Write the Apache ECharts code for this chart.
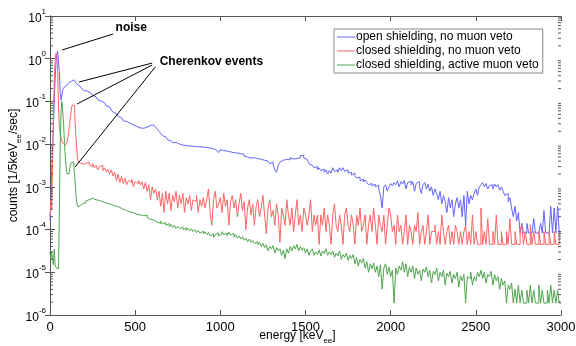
<!DOCTYPE html>
<html><head><meta charset="utf-8">
<script src="https://cdn.jsdelivr.net/npm/echarts@6/dist/echarts.min.js"></script>
<style>html,body{margin:0;padding:0;background:#fff}#c{width:576px;height:346px}</style>
</head><body><div id="c"></div>
<script>
// ---- data ----
const seriesNames = ['open shielding, no muon veto', 'closed shielding, no muon veto', 'closed shielding, active muon veto'];
const xTickValues = [0, 500, 1000, 1500, 2000, 2500, 3000];
const yTickExponents = [-6, -5, -4, -3, -2, -1, 0, 1];

// bin starts: 5 keV bins below 200 keV, 10 keV bins above
const binStarts = [];
for (let e = 0; e < 200; e += 5) binStarts.push(e);
for (let e = 200; e < 3000; e += 10) binStarts.push(e);

const openNoVeto = [
1.6e-4,4.0e-4,2.5e-3,7.9e-3,2.5e-2,0.1,0.32,0.79,1.26,1.5,1.4,0.5,0.16,0.107,0.14,0.19,0.21,0.22,0.23,0.245,
0.25,0.26,0.275,0.29,0.295,0.31,0.316,0.32,0.316,0.295,0.28,0.27,0.25,0.24,0.23,0.22,0.21,0.2,0.19,0.18,
0.178,0.174,0.166,0.158,0.148,0.138,0.129,0.117,0.11,0.102,
0.098,0.093,0.087,0.079,0.074,0.068,0.063,0.056,0.052,0.048,
0.044,0.042,0.038,0.035,0.034,0.032,0.031,0.030,0.028,0.0275,
0.026,0.025,0.024,0.025,0.0235,0.0245,0.025,0.026,0.0275,0.027,
0.028,0.026,0.025,0.0224,0.02,0.0178,0.0158,0.0148,0.0135,0.0126,
0.012,0.0112,0.0107,0.011,0.0102,0.01,0.0107,0.0095,0.01,0.0093,
0.0098,0.0091,0.0095,0.0089,0.0093,0.0087,0.0091,0.0087,0.0089,0.0085,
0.0091,0.0083,0.0087,0.0081,0.0085,0.0079,0.0076,0.0071,0.0072,0.0063,
0.0074,0.0071,0.0066,0.0069,0.0063,0.0066,0.006,0.0063,0.0059,0.0062,
0.0056,0.006,0.0055,0.0058,0.0052,0.005,0.0054,0.0047,0.005,0.0048,
0.0051,0.0046,0.0049,0.0044,0.0047,0.0042,0.0045,0.004,0.0043,0.0035,
0.0038,0.0032,0.0025,0.0022,0.0032,0.0038,0.0042,0.004,0.0044,0.0047,
0.0043,0.0048,0.0045,0.005,0.0046,0.0051,0.0048,0.0054,0.0054,0.0047,
0.0044,0.004,0.0035,0.0032,0.0033,0.0028,0.003,0.0025,0.0028,0.0024,
0.0026,0.0022,0.0025,0.002,0.0024,0.0021,0.0028,0.0023,0.0025,0.0022,
0.0028,0.0024,0.0028,0.0023,0.0025,0.0021,0.0022,0.0019,0.0021,0.0018,
0.0016,0.0017,0.0014,0.0015,0.0013,0.00145,0.00126,0.00112,0.0012,0.00105,
0.00115,0.001,0.0011,0.00089,0.00063,0.00032,0.001,0.00112,0.00079,0.001,
0.0012,0.00105,0.00126,0.00112,0.00138,0.001,0.00132,0.00117,0.0014,0.00089,
0.00126,0.00135,0.00112,0.00132,0.00079,0.0012,0.00132,0.001,0.0007,0.00112,
0.00126,0.00089,0.00115,0.00079,0.001,0.00063,0.00089,0.0007,0.0005,0.00079,
0.0004,0.00063,0.00045,0.00025,0.00056,0.00032,0.0005,0.0002,0.0004,0.00056,
0.00032,0.0005,0.0002,0.00063,0.000126,0.00079,0.0004,0.00063,0.0005,0.0007,
0.00089,0.00063,0.001,0.00112,0.00126,0.001,0.0012,0.00089,0.00107,0.00112,
0.00089,0.00117,0.001,0.00112,0.00083,0.001,0.00079,0.00063,0.0007,0.00045,
0.00056,0.00032,0.0002,0.00035,0.00016,0.00025,8.3e-5,0.00014,8.3e-5,8.3e-5,
0.00014,8.3e-5,8.3e-5,8.3e-5,0.00018,8.3e-5,8.3e-5,8.3e-5,0.00014,8.3e-5,
0.00028,8.3e-5,8.3e-5,8.3e-5,0.00035,8.3e-5,0.00032,8.3e-5,0.00035,8.3e-5
];

const closedNoVeto = [
2e-4,5e-4,3e-4,4e-3,0.05,0.3,0.9,1.35,1.2,0.5,0.08,0.025,0.018,0.014,0.012,0.0105,0.0098,0.0095,0.0093,0.0095,
0.011,0.014,0.02,0.03,0.045,0.065,0.082,0.09,0.08,0.05,0.022,0.01,0.0055,0.004,0.0038,0.0036,0.0035,0.0037,0.0034,0.0036,
3.5e-3,3.2e-3,3.8e-3,3.3e-3,3.0e-3,3.5e-3,2.8e-3,3.2e-3,2.5e-3,2.95e-3,
3.2e-3,2.4e-3,2.8e-3,2.24e-3,2.6e-3,2.0e-3,2.5e-3,1.78e-3,2.2e-3,1.4e-3,
2.0e-3,1.26e-3,1.78e-3,1.2e-3,1.58e-3,1.12e-3,1.4e-3,1.26e-3,1.5e-3,1.0e-3,
1.32e-3,1.2e-3,1.4e-3,1.12e-3,1.32e-3,8.9e-4,1.26e-3,7.9e-4,1.12e-3,5e-4,
1.0e-3,7.1e-4,8.9e-4,5e-4,7.9e-4,3.5e-4,7.1e-4,2.5e-4,7.9e-4,4e-4,
7.1e-4,2.8e-4,6.3e-4,4.5e-4,7.9e-4,3.2e-4,6.3e-4,4e-4,7.1e-4,2.5e-4,
5.6e-4,4e-4,6.3e-4,2.8e-4,5e-4,4.5e-4,6.3e-4,2.5e-4,5e-4,3.5e-4,
5.6e-4,3.2e-4,5e-4,8.9e-4,2.5e-4,1.26e-4,5e-4,7.9e-4,3.2e-4,4e-4,
5.6e-4,2.5e-4,7.1e-4,3.5e-4,5e-4,1.26e-4,4.5e-4,6.3e-4,3.2e-4,5e-4,
2e-4,4e-4,7.1e-4,2.8e-4,4.5e-4,1e-4,3.2e-4,5e-4,2.2e-4,4e-4,
1.26e-4,3.5e-4,5e-4,2e-4,3.2e-4,6.3e-4,2.2e-4,8e-5,3.2e-4,5e-4,
2e-4,2.8e-4,1.26e-4,4e-4,2.2e-4,5e-5,3.2e-4,2.2e-4,1.26e-4,5e-4,
2.2e-4,1.26e-4,3.2e-4,9e-5,2.2e-4,5e-4,1.26e-4,2.2e-4,9e-5,3.2e-4,
2.2e-4,1.26e-4,2.2e-4,5e-4,9e-5,2.2e-4,1.26e-4,2.2e-4,4.5e-5,2.2e-4,
1.26e-4,3.2e-4,9e-5,2.2e-4,1.26e-4,4.5e-5,2.2e-4,4e-4,1.26e-4,9e-5,
2.2e-4,1.26e-4,4.5e-5,2.2e-4,3.2e-4,1.26e-4,9e-5,2.2e-4,1.26e-4,4.5e-5,
2.2e-4,1.26e-4,3.2e-4,9e-5,1.26e-4,2.2e-4,4.5e-5,1.26e-4,2.2e-4,9e-5,
3.2e-4,1.26e-4,4.5e-5,2.2e-4,1.26e-4,9e-5,2.2e-4,4.5e-5,1.26e-4,3.2e-4,
2.2e-4,9e-5,1.26e-4,4.5e-5,2.2e-4,9e-5,1.26e-4,4.5e-5,9e-5,2.2e-4,
4.5e-5,1.26e-4,9e-5,4.5e-5,1.26e-4,9e-5,2.5e-4,4.5e-5,9e-5,1.26e-4,
4.5e-5,9e-5,2.2e-4,4.5e-5,9e-5,9e-5,1.26e-4,4.5e-5,9e-5,4.5e-5,
2.2e-4,9e-5,4.5e-5,9e-5,1.26e-4,4.5e-5,9e-5,4.5e-5,1.26e-4,9e-5,
4.5e-5,9e-5,4.5e-5,9e-5,1.26e-4,4.5e-5,9e-5,4.5e-5,2.2e-4,4.5e-5,
9e-5,4.5e-5,4.5e-5,3.2e-4,4.5e-5,9e-5,4.5e-5,1.8e-4,4.5e-5,4.5e-5,
9e-5,4.5e-5,2.2e-4,4.5e-5,4.5e-5,9e-5,4.5e-5,4.5e-5,9e-5,4.5e-5,
1.8e-4,4.5e-5,4.5e-5,9e-5,4.5e-5,4.5e-5,9e-5,1.26e-4,4.5e-5,9e-5,
4.5e-5,4.5e-5,1.26e-4,4.5e-5,9e-5,4.5e-5,4.5e-5,9e-5,4.5e-5,4.5e-5,
9e-5,4.5e-5,4.5e-5,9e-5,4.5e-5,4.5e-5,9e-5,4.5e-5,4.5e-5,9e-5
];

const closedActiveVeto = [
3e-5,2e-5,3e-5,2e-5,1.5e-5,3.5e-5,1.5e-5,1.3e-5,1.4e-5,1.2e-5,1.3e-5,3e-4,0.01,0.06,0.1,0.09,0.03,0.01,0.005,0.003,
0.002,0.0018,0.0021,0.0026,0.0032,0.0037,0.0039,0.0038,0.003,0.0018,0.0009,0.0005,0.00038,0.00034,0.00035,0.00037,0.00036,0.0004,0.00041,0.00043,
4.2e-4,4.7e-4,5e-4,5.2e-4,5.4e-4,5.6e-4,5e-4,5.4e-4,4.8e-4,5e-4,
4.5e-4,4.8e-4,4.2e-4,4.4e-4,4e-4,4.3e-4,3.7e-4,4e-4,3.5e-4,3.6e-4,
3.3e-4,3.55e-4,3.0e-4,3.16e-4,2.8e-4,3.0e-4,2.6e-4,2.8e-4,2.5e-4,2.6e-4,
2.3e-4,2.5e-4,2.2e-4,2.4e-4,2.1e-4,2.0e-4,2.2e-4,1.9e-4,1.74e-4,1.9e-4,
1.66e-4,1.78e-4,1.5e-4,1.66e-4,1.4e-4,1.58e-4,1.35e-4,1.45e-4,1.26e-4,1.38e-4,
1.17e-4,1.32e-4,1.12e-4,1.26e-4,1.07e-4,1.2e-4,1.05e-4,1.15e-4,1.0e-4,1.1e-4,
9.5e-5,1.07e-4,9.3e-5,1.05e-4,8.9e-5,1.0e-4,8.5e-5,9.5e-5,8.3e-5,9.1e-5,
7.9e-5,8.9e-5,7.6e-5,8.5e-5,7.1e-5,7.9e-5,6.6e-5,7.6e-5,8.3e-5,7.1e-5,
7.9e-5,8.9e-5,7.6e-5,8.3e-5,7.1e-5,8.7e-5,7.4e-5,8.1e-5,6.6e-5,7.6e-5,
6.3e-5,7.1e-5,6.0e-5,6.8e-5,5.6e-5,6.3e-5,5.2e-5,6.0e-5,5.0e-5,5.6e-5,
4.7e-5,5.2e-5,4.4e-5,5.0e-5,4.0e-5,4.7e-5,3.8e-5,4.4e-5,3.16e-5,4.0e-5,
3.55e-5,4.2e-5,2.8e-5,3.8e-5,3.16e-5,3.55e-5,2.5e-5,3.3e-5,2.1e-5,3.55e-5,
2.8e-5,4.0e-5,3.16e-5,4.2e-5,3.5e-5,4.5e-5,3.16e-5,4.0e-5,3.3e-5,3.8e-5,
2.8e-5,3.55e-5,2.5e-5,3.16e-5,3.55e-5,2.5e-5,3.0e-5,2.6e-5,3.3e-5,2.4e-5,
3.16e-5,2.75e-5,3.55e-5,2.5e-5,3.0e-5,2.6e-5,3.16e-5,2.24e-5,2.8e-5,2.4e-5,
3.16e-5,2.0e-5,2.6e-5,2.24e-5,2.8e-5,1.9e-5,2.5e-5,2.1e-5,2.6e-5,1.58e-5,
2.24e-5,1.4e-5,2.0e-5,1.66e-5,2.1e-5,1.26e-5,1.78e-5,1.0e-5,1.58e-5,1.2e-5,
1.66e-5,1.0e-5,1.4e-5,7.9e-6,1.5e-5,4.0e-6,1.26e-5,1.58e-5,8.9e-6,1.32e-5,
7.9e-6,1.12e-5,1.9e-6,1.26e-5,8.9e-6,1.4e-5,1.12e-5,1.78e-5,1.0e-5,1.58e-5,
7.9e-6,1.32e-5,1.0e-5,1.4e-5,7.1e-6,1.26e-5,8.9e-6,1.12e-5,6.3e-6,1.2e-5,
1.0e-5,1.32e-5,7.9e-6,1.12e-5,5.6e-6,1.05e-5,8.9e-6,1.26e-5,6.3e-6,1.0e-5,
7.9e-6,1.12e-5,5.0e-6,9.5e-6,7.9e-6,1.05e-5,5.6e-6,8.9e-6,7.1e-6,1.0e-5,
4.5e-6,8.3e-6,6.3e-6,8.9e-6,1.9e-6,7.9e-6,7.1e-6,1.0e-5,5.0e-6,7.9e-6,
6.3e-6,1.0e-5,7.9e-6,1.12e-5,7.1e-6,1.0e-5,5.6e-6,8.9e-6,7.9e-6,1.05e-5,
5.0e-6,8.9e-6,6.3e-6,7.9e-6,4.0e-6,7.1e-6,5.0e-6,6.3e-6,1.9e-6,5.0e-6,
4.0e-6,5.6e-6,1.9e-6,4.0e-6,1.9e-6,5.0e-6,1.9e-6,3.8e-6,1.9e-6,1.9e-6,
3.8e-6,1.9e-6,5.0e-6,1.9e-6,3.8e-6,1.9e-6,1.9e-6,5.0e-6,1.9e-6,3.8e-6,
1.9e-6,1.9e-6,3.8e-6,1.9e-6,5.0e-6,1.9e-6,3.8e-6,1.9e-6,3.8e-6,1.9e-6
];

// annotations in data coordinates [energy, counts]
const noiseLabel = { text: 'noise', at: [382, 5.24] };
const cherenkovLabel = { text: 'Cherenkov events', at: [641, 0.85] };
const annotationLines = [
  [[71, 1.6], [371, 3.79]],
  [[600, 0.79], [171, 0.285]],
  [[600, 0.713], [159, 0.087]],
  [[618, 0.64], [147, 0.0029]]
];

// ---- chart ----
const colors = ['#6464ff', '#ff6464', '#4ea64e'];
const FONT = 'Liberation Sans, Arial, sans-serif';

function toSteps(vals) {
  const d = binStarts.map((e, i) => [e, vals[i]]);
  d.push([3000, vals[vals.length - 1]]);
  return d;
}

const minorTicks = [];
for (let ex = -6; ex < 1; ex++) for (let m = 2; m <= 9; m++) minorTicks.push([0, m * Math.pow(10, ex)]);

const axisColor = '#555';
const chart = echarts.init(document.getElementById('c'), null, { renderer: 'canvas' });

const subRich = {
  n: { fontSize: 12, fontFamily: FONT, color: '#000', padding: [0, 0, 3, 0] },
  s: { fontSize: 8, fontFamily: FONT, color: '#000', verticalAlign: 'bottom' }
};

chart.setOption({
  animation: false,
  backgroundColor: '#fff',
  textStyle: { fontFamily: FONT },
  grid: { left: 50, top: 16, right: 15, bottom: 31, containLabel: false, outerBoundsMode: 'none' },
  legend: {
    data: seriesNames,
    icon: 'rect',
    orient: 'vertical',
    left: 334, top: 29,
    padding: [2, 4, 2, 3],
    itemGap: 2,
    itemWidth: 18, itemHeight: 1,
    backgroundColor: '#fff',
    borderColor: '#888', borderWidth: 1,
    textStyle: { fontSize: 12, color: '#000', fontFamily: FONT, padding: [0, 0, 0, -4] }
  },
  xAxis: [{
    type: 'value', min: 0, max: 3000, interval: 500, position: 'bottom',
    axisLine: { show: true, lineStyle: { color: axisColor } },
    axisTick: { show: true, inside: true, length: 5, lineStyle: { color: axisColor } },
    axisLabel: { color: '#000', fontSize: 13, margin: 6, fontFamily: FONT, formatter: v => String(v) },
    splitLine: { show: false },
    name: '{n|energy [keV}{s|ee}{n|]}',
    nameLocation: 'middle', nameGap: 15, nameMoveOverlap: false,
    nameTextStyle: { rich: subRich, padding: [0, 16, 0, 0] }
  }, {
    type: 'value', min: 0, max: 3000, interval: 500, position: 'top',
    axisLine: { show: true, lineStyle: { color: axisColor } },
    axisTick: { show: true, inside: true, length: 5, lineStyle: { color: axisColor } },
    axisLabel: { show: false }, splitLine: { show: false }
  }],
  yAxis: [{
    type: 'log', logBase: 10, min: 1e-6, max: 10, interval: 1, position: 'left',
    axisLine: { show: true, lineStyle: { color: axisColor } },
    axisTick: { show: true, inside: true, length: 5, lineStyle: { color: axisColor } },
    axisLabel: {
      margin: 4,
      formatter: v => '{b|10}{s|' + Math.round(Math.log10(v)) + '}',
      rich: {
        b: { fontSize: 12, fontFamily: FONT, color: '#000', padding: [5, 0, 0, 0] },
        s: { fontSize: 8, fontFamily: FONT, color: '#000', verticalAlign: 'top' }
      }
    },
    splitLine: { show: false },
    name: '{n|counts [1/5keV}{s|ee}{n|/sec]}',
    nameLocation: 'middle', nameRotate: 90, nameGap: 27, nameMoveOverlap: false,
    nameTextStyle: { rich: subRich }
  }, {
    type: 'log', logBase: 10, min: 1e-6, max: 10, interval: 1, position: 'right',
    axisLine: { show: true, lineStyle: { color: axisColor } },
    axisTick: { show: true, inside: true, length: 5, lineStyle: { color: axisColor } },
    axisLabel: { show: false }, splitLine: { show: false }
  }],
  series: [
    { name: seriesNames[0], type: 'line', step: 'end', symbol: 'none', data: toSteps(openNoVeto),
      lineStyle: { width: 1, color: colors[0] }, itemStyle: { color: colors[0] }, z: 2 },
    { name: seriesNames[1], type: 'line', step: 'end', symbol: 'none', data: toSteps(closedNoVeto),
      lineStyle: { width: 1, color: colors[1] }, itemStyle: { color: colors[1] }, z: 3 },
    { name: seriesNames[2], type: 'line', step: 'end', symbol: 'none', data: toSteps(closedActiveVeto),
      lineStyle: { width: 1, color: colors[2] }, itemStyle: { color: colors[2] }, z: 4,
      markLine: {
        silent: true, symbol: ['none', 'none'], animation: false,
        lineStyle: { color: '#000', width: 1, type: 'solid' },
        label: { show: false },
        data: annotationLines.map(l => [{ coord: l[0] }, { coord: l[1] }])
      },
      markPoint: {
        silent: true, symbol: 'circle', symbolSize: 1, itemStyle: { color: 'rgba(0,0,0,0)' },
        label: { show: true, position: 'right', distance: 0, formatter: p => p.name,
          fontWeight: 'bold', fontSize: 12, color: '#000', fontFamily: FONT },
        data: [
          { name: noiseLabel.text, coord: noiseLabel.at },
          { name: cherenkovLabel.text, coord: cherenkovLabel.at }
        ]
      }
    },
    { name: 'minorTicks', type: 'custom', silent: true, xAxisIndex: 0, yAxisIndex: 0, z: 5,
      data: minorTicks,
      renderItem: (params, api) => {
        const y = api.coord([0, api.value(1)])[1];
        const cs = params.coordSys;
        return { type: 'group', children: [
          { type: 'line', shape: { x1: cs.x, y1: y, x2: cs.x + 3, y2: y }, style: { stroke: axisColor, lineWidth: 1 } },
          { type: 'line', shape: { x1: cs.x + cs.width - 3, y1: y, x2: cs.x + cs.width, y2: y }, style: { stroke: axisColor, lineWidth: 1 } }
        ] };
      }
    }
  ]
});
</script>
</body></html>
